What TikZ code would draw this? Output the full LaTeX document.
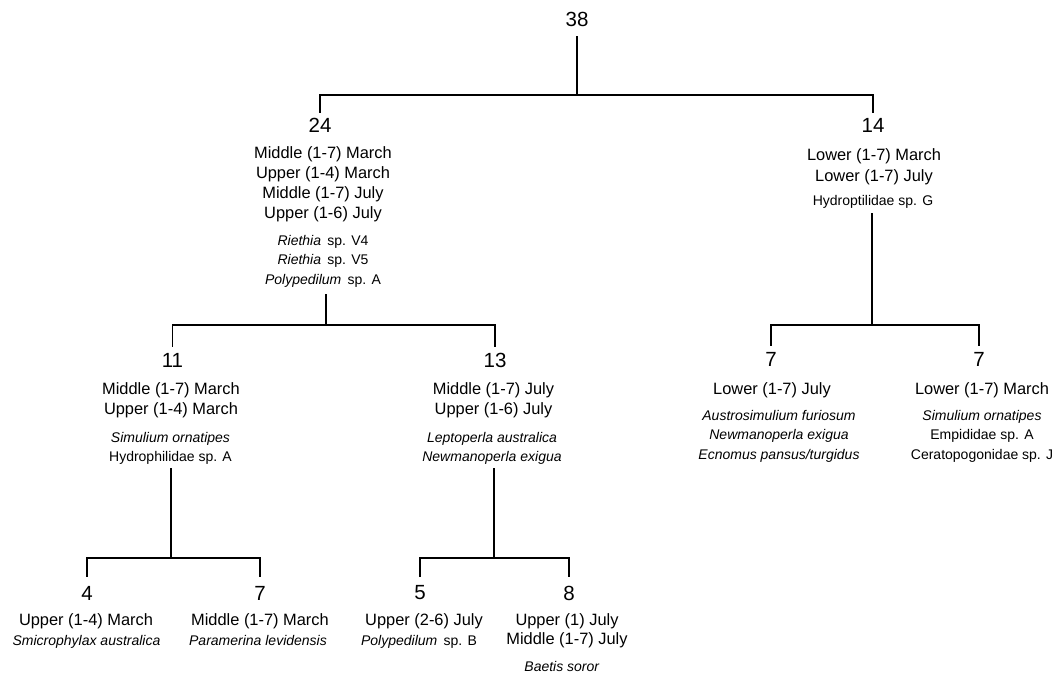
\documentclass[tikz,border=0pt]{standalone}
\usepackage{fontspec}
\setmainfont{Liberation Sans}
\begin{document}
\begin{tikzpicture}[x=1pt,y=-1pt,
 num/.style={font=\fontsize{20.5}{24}\selectfont, inner sep=0pt},
 site/.style={font=\fontsize{16.4}{20}\selectfont, align=center, inner sep=0pt, anchor=north},
 spec/.style={font=\fontsize{14}{19.5}\selectfont, align=center, inner sep=0pt, anchor=north},
 link/.style={line width=1.3pt, line cap=rect}]
\useasboundingbox[fill=white] (0,0) rectangle (1059,681);

% level 0
\node[num] (n38) at (577,19) {38};
% level 1
\node[num] (n24) at (320,125.5) {24};
\node[site] (s24) at (323,146) {Middle (1-7) March\\Upper (1-4) March\\Middle (1-7) July\\Upper (1-6) July};
\node[spec] (p24) at (323,235) {\textit{Riethia}\hspace{0.45em}sp. V4\\\textit{Riethia}\hspace{0.45em}sp. V5\\\textit{Polypedilum}\hspace{0.45em}sp. A};
\node[num] (n14) at (873,125.5) {14};
\node[site, font=\fontsize{16.4}{21.5}\selectfont] (s14) at (874,148) {Lower (1-7) March\\Lower (1-7) July};
\node[spec] (p14) at (873,195) {Hydroptilidae sp. G};

% level 2
\node[num] (n11) at (172.5,360) {11};
\node[site] (s11) at (171,382) {Middle (1-7) March\\Upper (1-4) March};
\node[spec] (p11) at (170.5,432) {\textit{Simulium ornatipes}\\Hydrophilidae sp. A};
\node[num] (n13) at (495,360) {13};
\node[site] (s13) at (493.5,382) {Middle (1-7) July\\Upper (1-6) July};
\node[spec] (p13) at (492,432) {\textit{Leptoperla australica}\\\textit{Newmanoperla exigua}};
\node[num] (n7a) at (771,359) {7};
\node[site] (s7a) at (772,382) {Lower (1-7) July};
\node[spec] (p7a) at (779,410) {\textit{Austrosimulium furiosum}\\\textit{Newmanoperla exigua}\\\textit{Ecnomus pansus/turgidus}};
\node[num] (n7b) at (979,359) {7};
\node[site] (s7b) at (982,382) {Lower (1-7) March};
\node[spec] (p7b) at (982,410) {\textit{Simulium ornatipes}\\Empididae sp. A\\Ceratopogonidae sp. J};

% level 3
\node[num] (n4) at (87,593) {4};
\node[site] (s4) at (86,613) {Upper (1-4) March};
\node[spec] (p4) at (86.5,635) {\textit{Smicrophylax australica}};
\node[num] (n7c) at (260,593) {7};
\node[site] (s7c) at (260,613) {Middle (1-7) March};
\node[spec] (p7c) at (258,635) {\textit{Paramerina levidensis}};
\node[num] (n5) at (420,593) {5};
\node[site] (s5) at (424,613) {Upper (2-6) July};
\node[spec] (p5) at (419,635) {\textit{Polypedilum}\hspace{0.45em}sp. B};
\node[num] (n8) at (569,593) {8};
\node[site, font=\fontsize{16.4}{19}\selectfont] (s8) at (567,613) {Upper (1) July\\Middle (1-7) July};
\node[spec] (p8) at (562,661) {\textit{Baetis soror}};

% connectors
\coordinate (b0) at (577,95);
\draw[link] ([yshift=-10pt]n38.south) -- (b0);
\draw[link] ([yshift=6pt]n24.north) |- (b0) -| ([yshift=6pt]n14.north);

\coordinate (b24) at (326,325);
\draw[link, shorten <=7pt] (p24.south -| b24) -- (b24);
\draw[link] ([yshift=6pt]n11.north) |- (b24) -| ([yshift=6pt]n13.north);

\coordinate (b14) at (872,325);
\draw[link, shorten <=5pt] (p14.south -| b14) -- (b14);
\draw[link] ([yshift=6pt]n7a.north) |- (b14) -| ([yshift=6pt]n7b.north);

\coordinate (b11) at (171,558);
\draw[link, shorten <=4pt] (p11.south -| b11) -- (b11);
\draw[link] ([yshift=9pt]n4.north) |- (b11) -| ([yshift=9pt]n7c.north);

\coordinate (b13) at (494,558);
\draw[link, shorten <=4pt] (p13.south -| b13) -- (b13);
\draw[link] ([yshift=9pt]n5.north) |- (b13) -| ([yshift=9pt]n8.north);
\end{tikzpicture}
\end{document}
